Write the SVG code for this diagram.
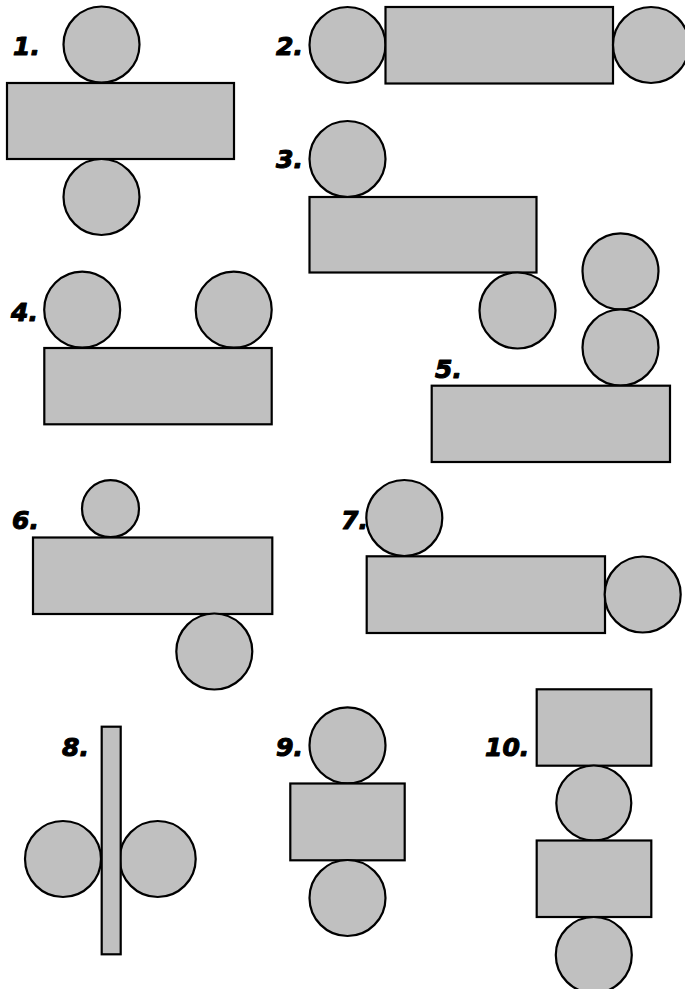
<svg xmlns="http://www.w3.org/2000/svg" width="685" height="989" viewBox="0 0 685 989">
<style>
.s{fill:#c0c0c0;stroke:#000;stroke-width:2.2}
.t{font-family:"DejaVu Sans",Verdana,sans-serif;font-weight:bold;font-style:italic;font-size:25px;fill:#000;stroke:#000;stroke-width:1.1;stroke-linejoin:round}
</style>
<rect width="685" height="989" fill="#fff"/>
<g id="fig1">
<circle class="s" cx="101.5" cy="44.5" r="38"/>
<rect class="s" x="7" y="83" width="227" height="76"/>
<circle class="s" cx="101.5" cy="197" r="38"/>
<text class="t" x="13" y="55">1.</text>
</g>
<g id="fig2">
<circle class="s" cx="347.5" cy="45" r="38"/>
<rect class="s" x="385.5" y="7" width="227.5" height="76.5"/>
<circle class="s" cx="651" cy="45" r="38"/>
<text class="t" x="276" y="55">2.</text>
</g>
<g id="fig3">
<circle class="s" cx="347.5" cy="159" r="38"/>
<rect class="s" x="309.5" y="197" width="227" height="75.5"/>
<circle class="s" cx="517.5" cy="310.5" r="38"/>
<text class="t" x="276" y="168">3.</text>
</g>
<g id="fig4">
<circle class="s" cx="82.2" cy="309.7" r="38"/>
<circle class="s" cx="233.7" cy="309.7" r="38"/>
<rect class="s" x="44.3" y="348" width="227.4" height="76.3"/>
<text class="t" x="11" y="321">4.</text>
</g>
<g id="fig5">
<circle class="s" cx="620.5" cy="271.3" r="38"/>
<circle class="s" cx="620.5" cy="347.5" r="38"/>
<rect class="s" x="431.7" y="385.7" width="238.3" height="76.3"/>
<text class="t" x="435" y="377.7">5.</text>
</g>
<g id="fig6">
<circle class="s" cx="110.5" cy="508.7" r="28.5"/>
<rect class="s" x="33" y="537.5" width="239.3" height="76.5"/>
<circle class="s" cx="214.3" cy="651.5" r="38"/>
<text class="t" x="12" y="529">6.</text>
</g>
<g id="fig7">
<circle class="s" cx="404.3" cy="518" r="38"/>
<rect class="s" x="366.7" y="556.3" width="238.3" height="76.7"/>
<circle class="s" cx="642.7" cy="594.5" r="38"/>
<text class="t" x="341" y="529">7.</text>
</g>
<g id="fig8">
<circle class="s" cx="63" cy="859" r="38"/>
<circle class="s" cx="157.7" cy="859" r="38"/>
<rect class="s" x="101.7" y="726.7" width="19" height="227.6"/>
<text class="t" x="62" y="756">8.</text>
</g>
<g id="fig9">
<circle class="s" cx="347.5" cy="745.3" r="38"/>
<rect class="s" x="290.3" y="783.5" width="114.4" height="76.8"/>
<circle class="s" cx="347.5" cy="898" r="38"/>
<text class="t" x="276" y="756">9.</text>
</g>
<g id="fig10">
<rect class="s" x="536.7" y="689.3" width="114.6" height="76.4"/>
<circle class="s" cx="593.8" cy="803" r="37.5"/>
<rect class="s" x="536.7" y="840.5" width="114.6" height="76.5"/>
<circle class="s" cx="593.8" cy="955" r="38"/>
<text class="t" x="485" y="756">10.</text>
</g>
</svg>
